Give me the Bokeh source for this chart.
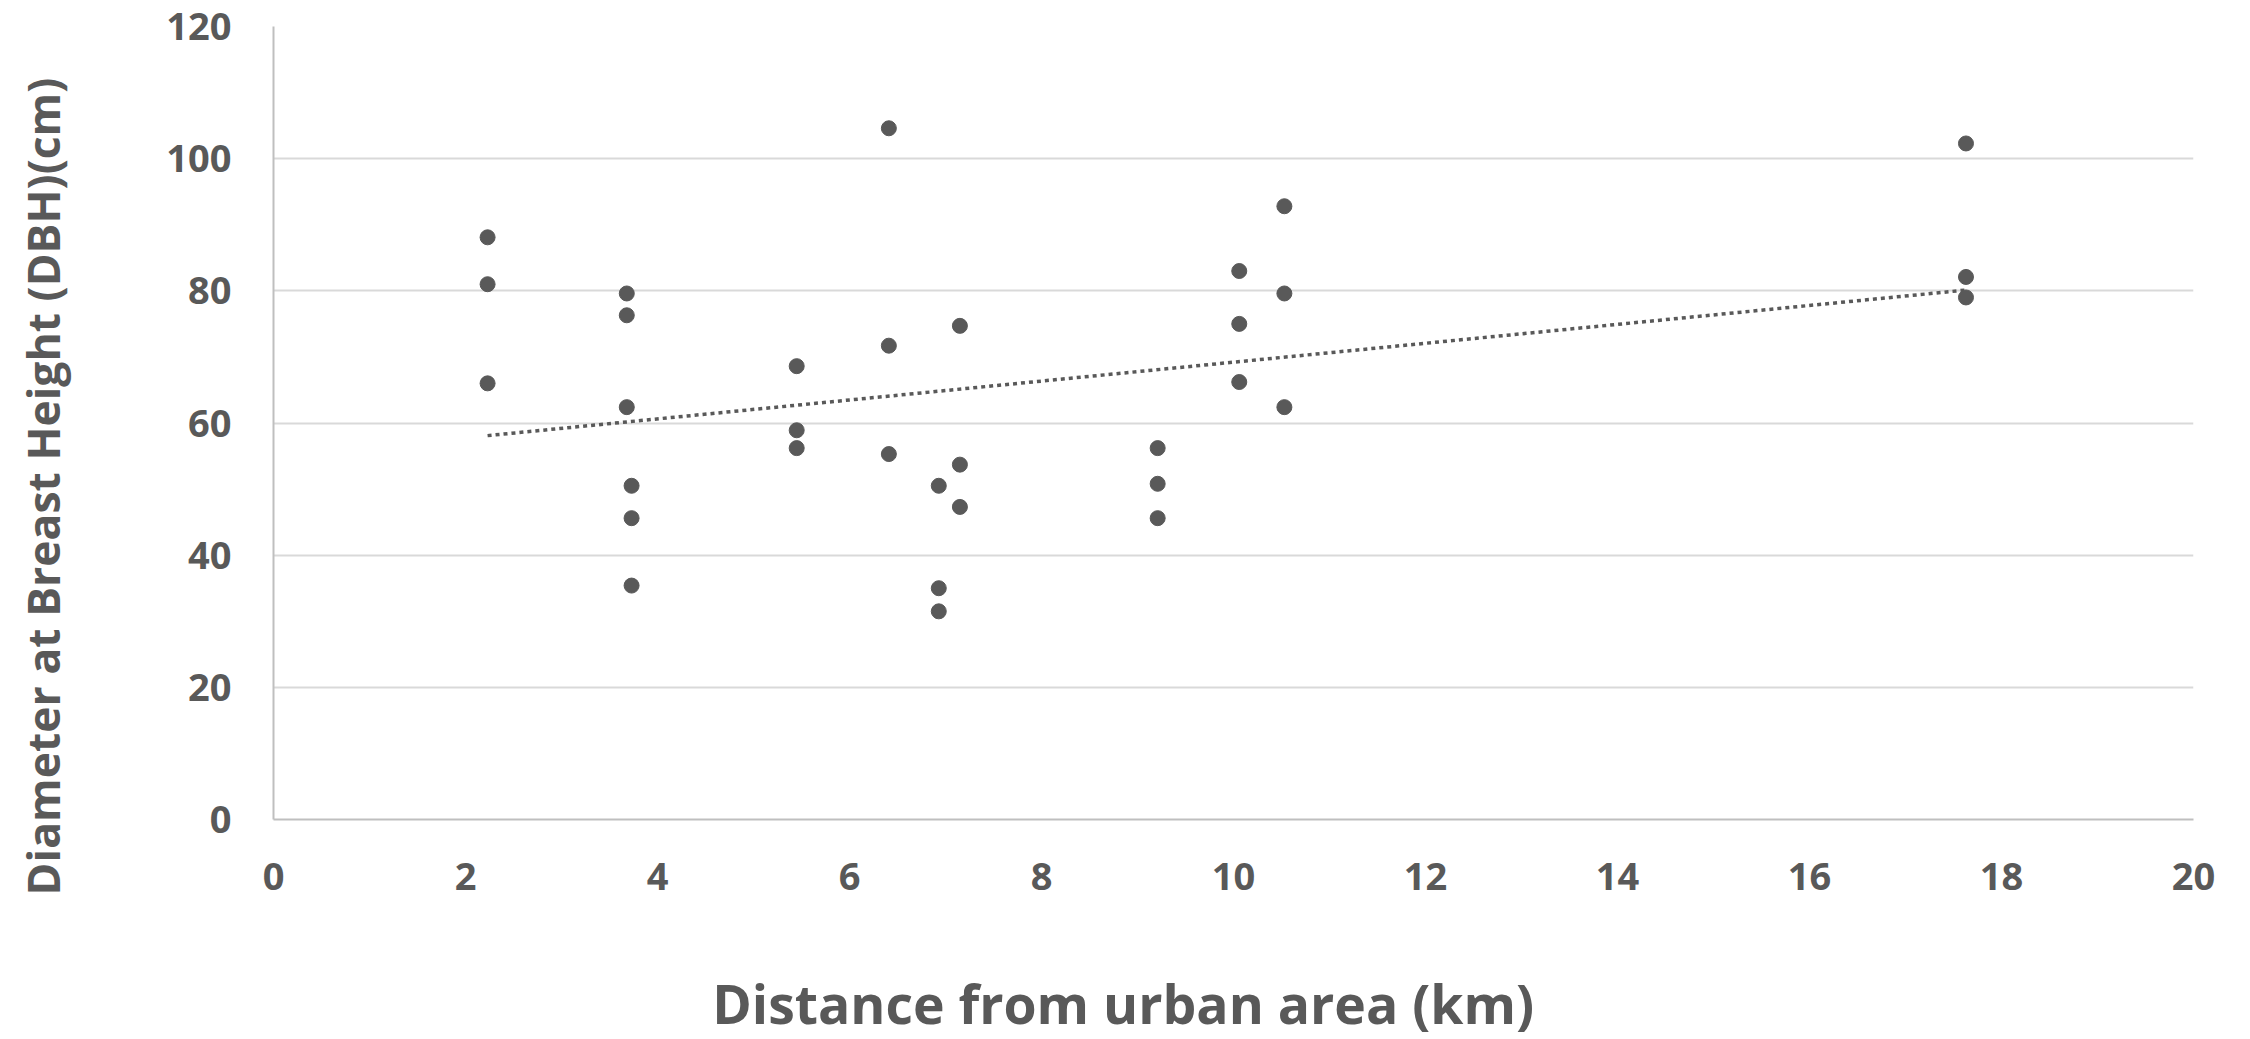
import numpy as np
from bokeh.plotting import figure
from bokeh.layouts import row, column
from bokeh.models import Range1d, FixedTicker, ColumnDataSource
from bokeh.core.properties import value
from bokeh.embed import file_html
from bokeh.resources import INLINE

# Distance from urban area (km) and DBH (cm)
distance_km = [2.23, 2.23, 2.23,
               3.68, 3.68, 3.68,
               3.73, 3.73, 3.73,
               5.45, 5.45, 5.45,
               6.41, 6.41, 6.41,
               6.93, 6.93, 6.93,
               7.15, 7.15, 7.15,
               9.21, 9.21, 9.21,
               10.06, 10.06, 10.06,
               10.53, 10.53, 10.53,
               17.63, 17.63, 17.63]
dbh_cm = [88.1, 81.0, 66.0,
          79.6, 76.3, 62.4,
          50.5, 45.6, 35.4,
          68.6, 58.9, 56.2,
          104.6, 71.7, 55.3,
          50.5, 35.0, 31.5,
          74.7, 53.7, 47.3,
          56.2, 50.8, 45.6,
          83.0, 75.0, 66.2,
          92.8, 79.6, 62.4,
          102.3, 82.1, 79.0]

x_ticks = [0, 2, 4, 6, 8, 10, 12, 14, 16, 18, 20]
y_ticks = [0, 20, 40, 60, 80, 100, 120]

x_title = "Distance from urban area  (km)"
y_title = "Diameter at Breast Height (DBH)(cm)"

GREY = "#595959"
FONT = "Open Sans"

W, H = 2244, 1039
LEFT_W = 90
MAIN_H = 960


def text_panel(w, h):
    f = figure(width=w, height=h, output_backend="svg", toolbar_location=None,
               x_range=Range1d(0, w), y_range=Range1d(0, h),
               x_axis_type=None, y_axis_type=None,
               min_border=0, min_border_left=0, min_border_right=0,
               min_border_top=0, min_border_bottom=0)
    f.outline_line_color = None
    f.xgrid.visible = False
    f.ygrid.visible = False
    f.background_fill_color = "white"
    f.border_fill_color = "white"
    return f


# main chart
p = figure(width=W - LEFT_W, height=MAIN_H, output_backend="svg", toolbar_location=None,
           x_range=Range1d(0, 20), y_range=Range1d(0, 120),
           min_border_left=273 - LEFT_W, min_border_right=W - LEFT_W - (273 - LEFT_W) - 1920,
           min_border_top=26, min_border_bottom=MAIN_H - 819)
p.outline_line_color = None
p.background_fill_color = "white"
p.border_fill_color = "white"

p.xgrid.grid_line_color = None
p.ygrid.grid_line_color = "#d9d9d9"
p.ygrid.grid_line_width = 2
p.ygrid.ticker = FixedTicker(ticks=y_ticks)

for ax in (p.xaxis[0], p.yaxis[0]):
    ax.major_tick_line_color = None
    ax.minor_tick_line_color = None
    ax.major_tick_in = 0
    ax.major_tick_out = 0
    ax.axis_line_color = "#bfbfbf"
    ax.axis_line_width = 2
    ax.major_label_text_font = FONT
    ax.major_label_text_font_style = "bold"
    ax.major_label_text_font_size = "38px"
    ax.major_label_text_color = GREY

p.xaxis[0].ticker = FixedTicker(ticks=x_ticks)
p.yaxis[0].ticker = FixedTicker(ticks=y_ticks)
p.xaxis[0].major_label_standoff = 43
p.yaxis[0].major_label_standoff = 42

# linear trend line (least squares fit of the data)
coef = np.polyfit(distance_km, dbh_cm, 1)
tx = [min(distance_km), max(distance_km)]
ty = [coef[0] * v + coef[1] for v in tx]
p.line(tx, ty, line_color=GREY, line_width=3.5, line_dash="4 4")

src = ColumnDataSource(dict(x=distance_km, y=dbh_cm))
p.scatter("x", "y", source=src, size=15, fill_color=GREY, line_color=GREY, marker="circle")

# y-axis title panel
left = text_panel(LEFT_W, H)
left.text(x=[42], y=[H - 486], text=[y_title], angle=np.pi / 2,
          text_font=value(FONT), text_font_style="bold", text_font_size="44.5px",
          text_color=GREY, text_align="center", text_baseline="middle")

# x-axis title panel
bottom = text_panel(W - LEFT_W, H - MAIN_H)
bottom.text(x=[961], y=[H - 1003], text=[x_title],
            text_font=value(FONT), text_font_style="bold", text_font_size="53.5px",
            text_color=GREY, text_align="center", text_baseline="middle")

layout = row(left, column(p, bottom, spacing=0), spacing=0)

open("out.html", "w").write(file_html(layout, INLINE))
